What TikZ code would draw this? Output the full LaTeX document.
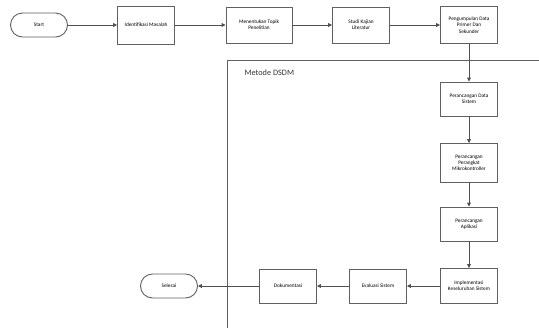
\documentclass[tikz,border=0pt]{standalone}
\usepackage{fontspec}
\setmainfont{Carlito}
\usetikzlibrary{arrows.meta}
\definecolor{edge}{HTML}{505050}
\definecolor{frame}{HTML}{606060}
\tikzset{
  stepbox/.style={draw=frame, line width=0.9bp, fill=white, align=center,
    inner sep=1bp, font=\fontsize{5.3}{6.3}\selectfont,
    minimum width=57bp, minimum height=36bp},
  terminal/.style={draw=frame, line width=0.9bp, fill=white, rounded corners=12bp,
    align=center, font=\fontsize{5.3}{6.3}\selectfont,
    minimum width=57bp, minimum height=24bp},
  flow/.style={draw=edge, line width=0.9bp, -{Triangle[length=4bp,width=3.8bp]}}
}
\begin{document}
\begin{tikzpicture}[x=1bp, y=-1bp]
  \useasboundingbox (0,0) rectangle (539,328);
  % DSDM method frame
  \draw[frame, line width=1bp] (227,328) -- (227,60) -- (539,60);
  \node[anchor=west, font=\fontsize{8.3}{9}\selectfont, text=black!80] (dsdm) at (241,73) {Metode DSDM};

  % top row
  \node[terminal] (start) at (39,25) {Start};
  \node[stepbox, minimum height=38bp] (ident) at (146,25) {Identifikasi Masalah};
  \node[stepbox, minimum width=66bp] (topik) at (259,25) {Menentukan Topik\\Penelitian};
  \node[stepbox] (studi) at (361,25) {Studi Kajian\\Literatur};
  \node[stepbox, minimum height=37bp] (kumpul) at (469,25) {Pengumpulan Data\\Primer Dan\\Sekunder};

  % right column
  \node[stepbox, minimum height=34bp] (data) at (469,99) {Perancangan Data\\Sistem};
  \node[stepbox, minimum height=39bp] (mikro) at (469,163) {Perancangan\\Perangkat\\Mikrokontroller};
  \node[stepbox, minimum height=34bp] (apli) at (469,224) {Perancangan\\Aplikasi};
  \node[stepbox, minimum height=35bp] (impl) at (469,286) {Implementasi\\Keseluruhan Sistem};

  % bottom row
  \node[stepbox, minimum height=34bp] (eval) at (378,286) {Evaluasi Sistem};
  \node[stepbox, minimum height=34bp] (dok) at (288,286) {Dokumentasi};
  \node[terminal] (selesai) at (169,286) {Selesai};

  % connectors
  \draw[flow] (start) -- (ident);
  \draw[flow] (ident) -- (topik);
  \draw[flow] (topik) -- (studi);
  \draw[flow] (studi) -- (kumpul);
  \draw[flow] (kumpul) -- (data);
  \draw[flow] (data) -- (mikro);
  \draw[flow] (mikro) -- (apli);
  \draw[flow] (apli) -- (impl);
  \draw[flow] (impl) -- (eval);
  \draw[flow] (eval) -- (dok);
  \draw[flow] (dok) -- (selesai);
\end{tikzpicture}
\end{document}
